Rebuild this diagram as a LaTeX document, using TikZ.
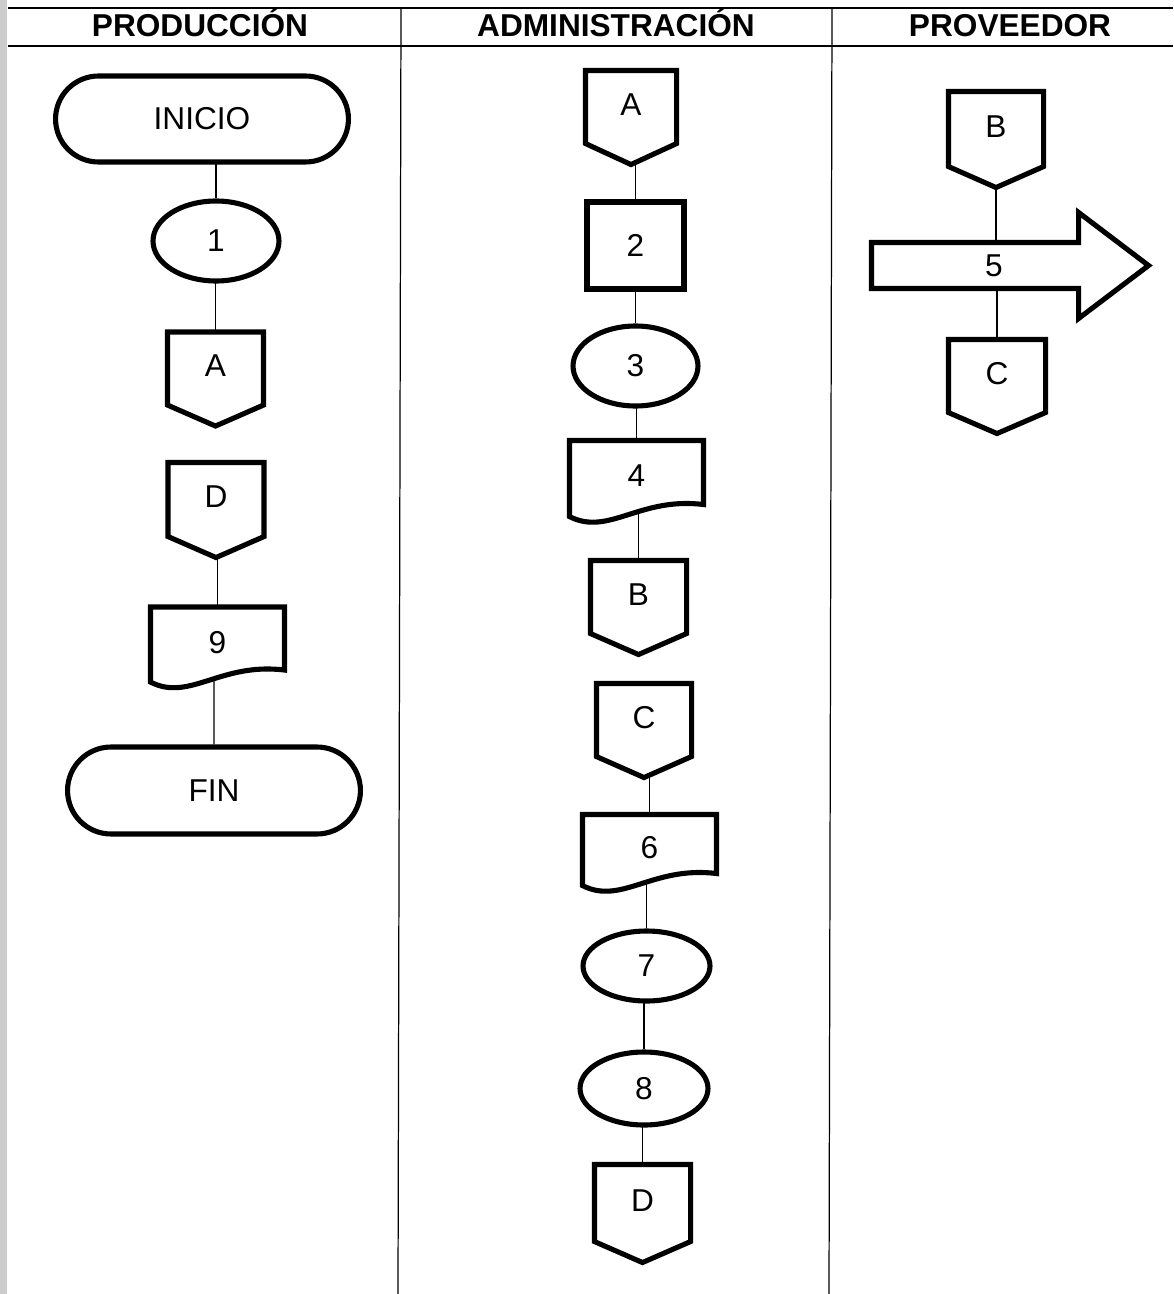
\documentclass[tikz,border=0pt]{standalone}
\usepackage{fontspec}
\setmainfont{Liberation Sans}
\usetikzlibrary{shapes.geometric,shapes.misc,backgrounds,calc}

\tikzset{
  forma/.style={font=\fontsize{18}{21}\selectfont, line width=2.9pt, inner sep=2pt},
  terminal/.style={forma, draw, fill=white, rounded rectangle, minimum width=6cm, minimum height=1.72cm},
  operacion/.style={forma, draw, fill=white, ellipse, minimum width=2.52cm, minimum height=1.6cm},
  proceso/.style={forma, draw, fill=white, rectangle, minimum width=1.94cm, minimum height=1.74cm},
  conector/.style={forma, minimum width=1.82cm, minimum height=1.78cm, text depth=0.52cm},
  documento/.style={forma, minimum width=2.58cm, minimum height=1.5cm, text depth=0.2cm},
  flecha/.style={forma, minimum width=5.44cm, minimum height=2.02cm},
  contorno/.style={draw, fill=white, line width=2.9pt},
  linea/.style={line width=0.8pt},
  titulo/.style={font=\bfseries\fontsize{18}{21}\selectfont, anchor=base},
}

\begin{document}
\begin{tikzpicture}[x=0.02cm, y=-0.02cm]
    \useasboundingbox (0,0) rectangle (1173,1294);

    % marco de la tabla
    \fill[gray!40] (0,0) rectangle (7,1294);
    \draw[line width=0.7pt] (8,8) -- (1173,8) (8,46) -- (1173,46);
    \draw[line width=0.7pt] (401,8) -- (398,1294) (832,8) -- (829,1294);

    \node[titulo] (tprod) at (200,37) {PRODUCCIÓN};
    \node[titulo] (tadmin) at (616,37) {ADMINISTRACIÓN};
    \node[titulo] (tprov) at (1010,37) {PROVEEDOR};

    % produccion
    \node[terminal] (inicio) at (202,119) {INICIO};
    \node[operacion] (p1) at (216,241) {1};
    \node[conector] (pA) at (215.5,379) {A};
    \node[conector, minimum height=1.8cm] (pD) at (216,510) {D};
    \node[documento] (p9) at (217.5,647) {9};
    \node[terminal, minimum height=1.74cm] (fin) at (214,790.5) {FIN};

    % administracion
    \node[conector, minimum width=1.72cm] (aA) at (631,117.5) {A};
    \node[proceso] (a2) at (635.5,245.5) {2};
    \node[operacion, minimum width=2.5cm] (a3) at (635.5,366) {3};
    \node[documento, minimum height=1.52cm] (a4) at (636.5,481) {4};
    \node[conector] (aB) at (638.5,607.5) {B};
    \node[conector, minimum width=1.8cm] (aC) at (644,730.5) {C};
    \node[documento, minimum height=1.42cm] (a6) at (649.5,852.5) {6};
    \node[operacion, minimum width=2.54cm, minimum height=1.4cm] (a7) at (646.5,966) {7};
    \node[operacion, minimum width=2.56cm, minimum height=1.46cm] (a8) at (644,1088.5) {8};
    \node[conector, minimum height=1.86cm] (aD) at (642.5,1213.5) {D};

    % proveedor
    \node[conector, minimum width=1.8cm, minimum height=1.82cm] (vB) at (996,139.5) {B};
    \node[flecha] (v5) at (1010,265.5) {5\hspace*{0.64cm}};
    \node[conector, minimum width=1.84cm] (vC) at (997,386.5) {C};

    \begin{scope}[on background layer]
        \foreach \a/\b in {inicio/p1, p1/pA, pD/p9, p9/fin, aA/a2, a2/a3, a3/a4, a4/aB,
                           aC/a6, a6/a7, a7/a8, a8/aD}
            \draw[linea] (\a -| \b) -- (\b);
        \draw[linea] (vB) -- (vB |- v5);
        \draw[linea] (v5 -| vC) -- (vC);

        % contornos de conectores, documentos y flecha
        \foreach \n in {pA, pD, aA, aB, aC, aD, vB, vC}
            \draw[contorno] (\n.north west) -- (\n.north east) -- ([yshift=0.42cm]\n.south east)
                -- (\n.south) -- ([yshift=0.42cm]\n.south west) -- cycle;
        \foreach \n in {p9, a4, a6}
            \draw[contorno] (\n.north west) -- (\n.north east) -- ([yshift=0.34cm]\n.south east)
                .. controls ([xshift=-1.28cm,yshift=0.5cm]\n.south east)
                and ([xshift=0.78cm,yshift=-0.3cm]\n.south west)
                .. ([yshift=0.1cm]\n.south west) -- cycle;
        \draw[contorno] ([yshift=0.46cm]v5.west) -- ([xshift=-1.4cm,yshift=0.46cm]v5.east)
            -- ([xshift=-1.4cm]v5.north east) -- (v5.east)
            -- ([xshift=-1.4cm]v5.south east) -- ([xshift=-1.4cm,yshift=-0.46cm]v5.east)
            -- ([yshift=-0.46cm]v5.west) -- cycle;
    \end{scope}
\end{tikzpicture}
\end{document}
